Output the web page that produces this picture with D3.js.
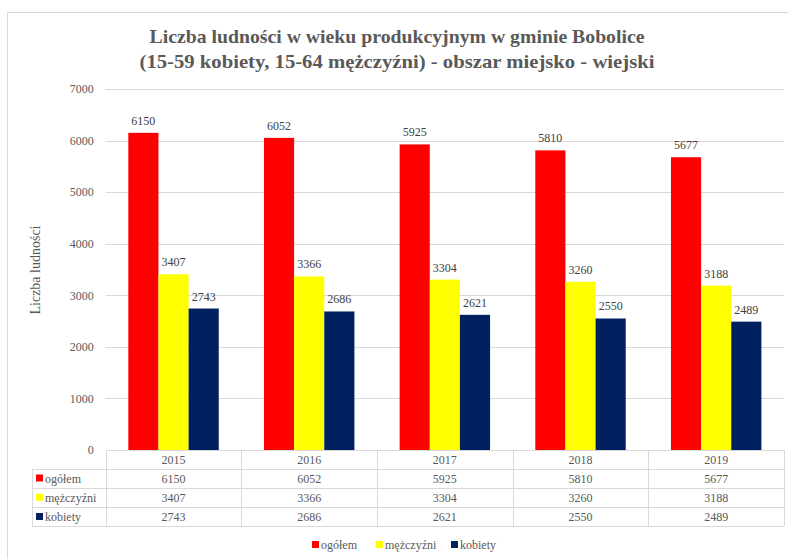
<!DOCTYPE html>
<html lang="pl">
<head>
<meta charset="utf-8">
<title>Liczba ludności w wieku produkcyjnym</title>
<script src="https://cdn.jsdelivr.net/npm/d3@7"></script>
<style>
  body { margin: 0; background: #fff; }
  svg { display: block; font-family: "Liberation Serif", "Times New Roman", serif; }
</style>
</head>
<body>
<svg id="chart" width="788" height="559"></svg>
<script>
// data
const years = ["2015", "2016", "2017", "2018", "2019"];
const seriesNames = ["ogółem", "mężczyźni", "kobiety"];
const ogolem = [6150, 6052, 5925, 5810, 5677];
const mezczyzni = [3407, 3366, 3304, 3260, 3188];
const kobiety = [2743, 2686, 2621, 2550, 2489];
const yTicks = [0, 1000, 2000, 3000, 4000, 5000, 6000, 7000];
const colors = ["#ff0000", "#ffff00", "#002060"];

const seriesValues = [ogolem, mezczyzni, kobiety];

const svg = d3.select("#chart");
const textColor = "#595959";
const gridColor = "#d9d9d9";
const serif = "'Liberation Serif', 'Times New Roman', serif";

// outer frame
svg.append("rect")
  .attr("x", 7.5).attr("y", 12.5)
  .attr("width", 800).attr("height", 600)
  .attr("fill", "#fff").attr("stroke", "#d9d9d9");

// title
const title = svg.append("text")
  .attr("text-anchor", "middle")
  .attr("fill", textColor)
  .style("font-size", "19px")
  .style("font-weight", "bold");
title.append("tspan").attr("x", 397).attr("y", 43)
  .attr("textLength", 495).attr("lengthAdjust", "spacingAndGlyphs")
  .text("Liczba ludności w wieku produkcyjnym  w gminie Bobolice");
title.append("tspan").attr("x", 397).attr("y", 68)
  .attr("textLength", 515).attr("lengthAdjust", "spacingAndGlyphs")
  .text("(15-59 kobiety, 15-64 mężczyźni)  - obszar  miejsko - wiejski");

// scales
const plotLeft = 105.7, plotRight = 784;
const x = d3.scaleBand().domain(years).range([plotLeft, plotRight]).paddingInner(0).paddingOuter(0);
const y = d3.scaleLinear().domain([0, 7000]).range([450, 89]);
const xs = d3.scaleBand().domain(seriesNames).range([0, x.bandwidth()]).paddingOuter(0.75).paddingInner(0);

// gridlines
svg.append("g")
  .selectAll("line")
  .data(yTicks.filter(d => d > 0))
  .join("line")
  .attr("x1", plotLeft).attr("x2", plotRight)
  .attr("y1", d => Math.round(y(d)) + 0.5).attr("y2", d => Math.round(y(d)) + 0.5)
  .attr("stroke", gridColor);

// y axis
const yAxis = svg.append("g")
  .attr("transform", `translate(${plotLeft},0)`)
  .call(d3.axisLeft(y).tickValues(yTicks).tickFormat(d3.format("d")).tickSize(0).tickPadding(12));
yAxis.attr("font-family", serif).attr("font-size", 12);
yAxis.select(".domain").remove();
yAxis.selectAll(".tick text").attr("fill", textColor);

// y axis title
svg.append("text")
  .attr("transform", "translate(40,270) rotate(-90)")
  .attr("text-anchor", "middle")
  .attr("fill", textColor)
  .style("font-size", "14px")
  .text("Liczba ludności");

// bars
const groups = svg.append("g").selectAll("g")
  .data(years)
  .join("g")
  .attr("transform", d => `translate(${x(d)},0)`);

groups.selectAll("rect")
  .data((d, i) => seriesNames.map((s, j) => ({ s, v: seriesValues[j][i], c: colors[j] })))
  .join("rect")
  .attr("x", d => xs(d.s))
  .attr("y", d => y(d.v))
  .attr("width", xs.bandwidth())
  .attr("height", d => y(0) - y(d.v))
  .attr("fill", d => d.c);

groups.selectAll("text.lbl")
  .data((d, i) => seriesNames.map((s, j) => ({ s, v: seriesValues[j][i] })))
  .join("text")
  .attr("class", "lbl")
  .attr("x", d => xs(d.s) + xs.bandwidth() / 2)
  .attr("y", d => y(d.v) - 8)
  .attr("text-anchor", "middle")
  .attr("fill", "#404040")
  .style("font-size", "12px")
  .text(d => d.v);

// data table
const tableLeft = 32;
const rowY = [450, 468.5, 487.5, 507, 526];
const table = svg.append("g");

// horizontal lines
table.selectAll("line.h")
  .data(rowY)
  .join("line")
  .attr("class", "h")
  .attr("x1", (d, i) => i === 0 ? plotLeft : tableLeft)
  .attr("x2", plotRight)
  .attr("y1", d => Math.round(d) + 0.5).attr("y2", d => Math.round(d) + 0.5)
  .attr("stroke", gridColor);

// vertical lines
const colEdges = years.map(d => x(d)).concat([plotRight]);
table.selectAll("line.v")
  .data(colEdges)
  .join("line")
  .attr("class", "v")
  .attr("x1", d => Math.round(d) + 0.5).attr("x2", d => Math.round(d) + 0.5)
  .attr("y1", rowY[0]).attr("y2", rowY[4])
  .attr("stroke", gridColor);
table.append("line")
  .attr("x1", tableLeft + 0.5).attr("x2", tableLeft + 0.5)
  .attr("y1", rowY[1]).attr("y2", rowY[4])
  .attr("stroke", gridColor);

// year header
table.selectAll("text.yr")
  .data(years)
  .join("text")
  .attr("class", "yr")
  .attr("x", d => x(d) + x.bandwidth() / 2)
  .attr("y", (rowY[0] + rowY[1]) / 2 + 4.5)
  .attr("text-anchor", "middle")
  .attr("fill", textColor)
  .style("font-size", "12px")
  .text(d => d);

// rows
seriesNames.forEach((s, j) => {
  const cy = (rowY[j + 1] + rowY[j + 2]) / 2;
  table.append("rect")
    .attr("x", 36).attr("y", cy - 3.5)
    .attr("width", 7).attr("height", 7)
    .attr("fill", colors[j]);
  table.append("text")
    .attr("x", 45).attr("y", cy + 4.5)
    .attr("fill", textColor)
    .style("font-size", "12px")
    .text(s);
  table.selectAll("text.r" + j)
    .data(years)
    .join("text")
    .attr("class", "r" + j)
    .attr("x", d => x(d) + x.bandwidth() / 2)
    .attr("y", cy + 4.5)
    .attr("text-anchor", "middle")
    .attr("fill", textColor)
    .style("font-size", "12px")
    .text((d, i) => seriesValues[j][i]);
});

// legend
const legendX = [312, 376, 451];
const legend = svg.append("g").selectAll("g")
  .data(seriesNames)
  .join("g")
  .attr("transform", (d, i) => `translate(${legendX[i]},545)`);
legend.append("rect")
  .attr("x", 0).attr("y", -4)
  .attr("width", 7).attr("height", 7)
  .attr("fill", (d, i) => colors[i]);
legend.append("text")
  .attr("x", 9).attr("y", 4)
  .attr("fill", textColor)
  .style("font-size", "12px")
  .text(d => d);
</script>
</body>
</html>
